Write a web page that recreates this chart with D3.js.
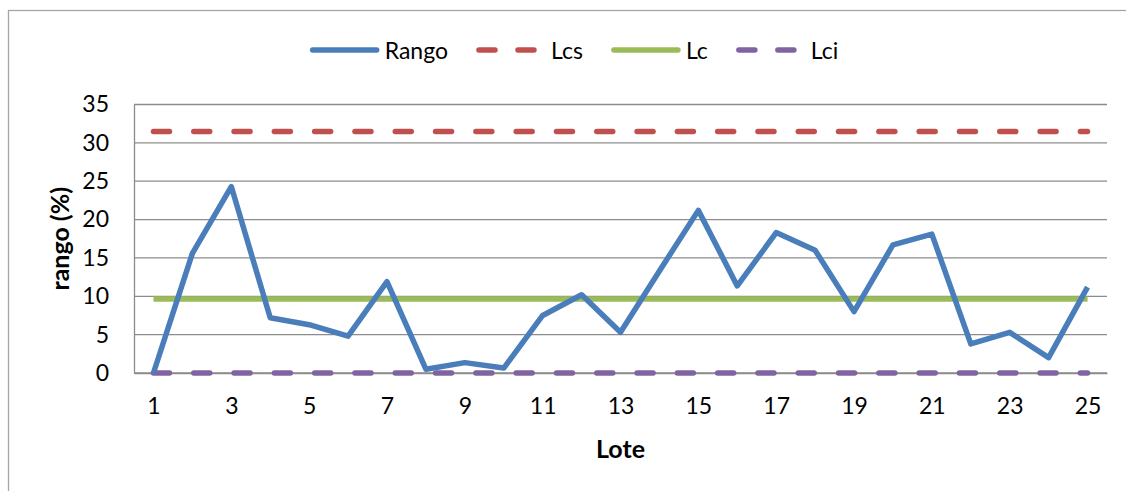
<!DOCTYPE html>
<html>
<head>
<meta charset="utf-8">
<script src="https://cdn.jsdelivr.net/npm/d3@7"></script>
<style>
  html, body { margin: 0; padding: 0; background: #fff; }
  svg { display: block; font-family: Lato, "Open Sans", sans-serif; }
</style>
</head>
<body>
<svg id="chart" width="1126" height="491"></svg>
<script>
// Lotes 1..25 and the range (%) measured for each lot
const lotes = d3.range(1, 26);
const rango = [0, 15.6, 24.3, 7.2, 6.3, 4.8, 11.9, 0.5, 1.35, 0.65,
               7.5, 10.2, 5.3, 13.3, 21.2, 11.35, 18.3, 16.0, 8.0, 16.7,
               18.1, 3.8, 5.3, 2.0, 11.2];
// Control limits
const lcs = 31.47;
const lc = 9.63;
const lci = 0;
const yTicks = [0, 5, 10, 15, 20, 25, 30, 35];
const xTickLabels = lotes.filter(d => d % 2 === 1);

const series = [
  { name: "Rango", color: "#4A7EBB", dashed: false, values: rango },
  { name: "Lcs",   color: "#C0504D", dashed: true,  values: lotes.map(() => lcs) },
  { name: "Lc",    color: "#9BBB59", dashed: false, values: lotes.map(() => lc) },
  { name: "Lci",   color: "#8064A2", dashed: true,  values: lotes.map(() => lci) }
];

const svg = d3.select("#chart");
const plot = { left: 134, right: 1107, top: 104.5, bottom: 373 };
const gridColor = "#8C8C8C";
const fontSize = 23;
const titleSize = 25;

// Outer chart frame
svg.append("rect")
  .attr("x", 8.5).attr("y", 10.5)
  .attr("width", 1140).attr("height", 500)
  .attr("fill", "none").attr("stroke", "#A6A6A6").attr("stroke-width", 1.3);

const x = d3.scalePoint().domain(lotes).range([plot.left, plot.right]).padding(0.5);
const y = d3.scaleLinear().domain([0, 35]).range([plot.bottom, plot.top]);

// Horizontal gridlines
svg.append("g").selectAll("line").data(yTicks).join("line")
  .attr("x1", plot.left).attr("x2", plot.right)
  .attr("y1", d => y(d)).attr("y2", d => y(d))
  .attr("stroke", gridColor).attr("stroke-width", 1.3);

// Y axis
const yAxis = svg.append("g")
  .attr("transform", `translate(${plot.left},0)`)
  .call(d3.axisLeft(y).tickValues(yTicks).tickSize(0).tickPadding(25));
yAxis.select(".domain").attr("stroke", gridColor).attr("stroke-width", 1.3);
yAxis.selectAll("text").attr("font-size", fontSize).attr("fill", "#000")
  .attr("font-family", "Lato, sans-serif");

// X axis
const xAxis = svg.append("g")
  .attr("transform", `translate(0,${plot.bottom})`)
  .call(d3.axisBottom(x).tickValues(xTickLabels).tickSize(0).tickPadding(25));
xAxis.select(".domain").attr("stroke", gridColor).attr("stroke-width", 1.3);
xAxis.selectAll("text").attr("font-size", fontSize).attr("fill", "#000")
  .attr("font-family", "Lato, sans-serif");

// Axis titles
svg.append("text")
  .attr("x", (plot.left + plot.right) / 2).attr("y", 448)
  .attr("text-anchor", "middle").attr("dominant-baseline", "central")
  .attr("font-size", titleSize).attr("font-weight", "bold")
  .text("Lote");
svg.append("text")
  .attr("transform", `translate(59,${(plot.top + plot.bottom) / 2}) rotate(-90)`)
  .attr("text-anchor", "middle").attr("dominant-baseline", "central")
  .attr("font-size", titleSize).attr("font-weight", "bold")
  .text("rango (%)");

// Series lines
const line = d3.line().x((d, i) => x(lotes[i])).y(d => y(d));
const drawOrder = [series[1], series[2], series[3], series[0]];
svg.append("g").selectAll("path").data(drawOrder).join("path")
  .attr("d", s => line(s.values))
  .attr("fill", "none")
  .attr("stroke", s => s.color)
  .attr("stroke-width", 5.5)
  .attr("stroke-linejoin", "round")
  .attr("stroke-linecap", s => s.dashed ? "round" : "butt")
  .attr("stroke-dasharray", s => s.dashed ? "16,24.3" : null);

// Legend
const legend = svg.append("g");
const slot = 75;
const itemGap = 28;
const items = legend.selectAll("g").data(series).join("g");
items.append("text")
  .attr("x", slot).attr("y", 50)
  .attr("dominant-baseline", "central")
  .attr("font-size", fontSize)
  .text(d => d.name);
items.append("line")
  .attr("x1", 3).attr("x2", d => d.dashed ? 58 : 67)
  .attr("y1", 50).attr("y2", 50)
  .attr("stroke", d => d.color).attr("stroke-width", 5.5)
  .attr("stroke-linecap", "round")
  .attr("stroke-dasharray", d => d.dashed ? "16,23" : null);
let cursor = 0;
items.each(function () {
  const w = d3.select(this).select("text").node().getComputedTextLength();
  d3.select(this).attr("transform", `translate(${cursor},0)`);
  cursor += slot + w + itemGap;
});
const totalW = cursor - itemGap;
legend.attr("transform", `translate(${574 - totalW / 2},0)`);
</script>
</body>
</html>
